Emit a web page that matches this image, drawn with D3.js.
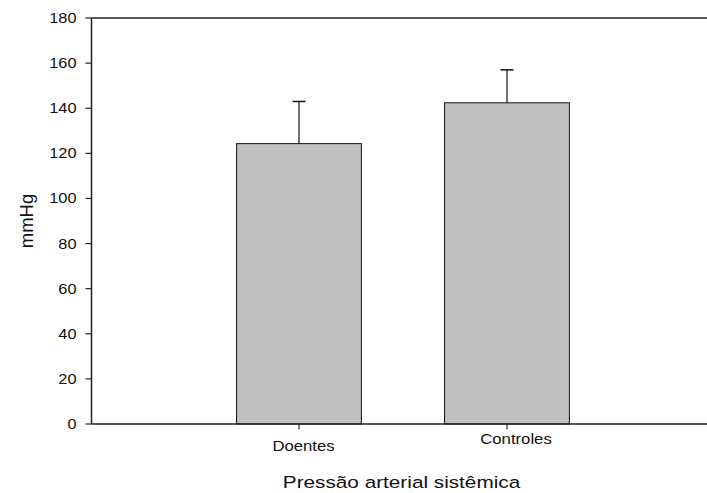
<!DOCTYPE html>
<html>
<head>
<meta charset="utf-8">
<script src="https://cdn.jsdelivr.net/npm/d3@7/dist/d3.min.js"></script>
<style>
  html, body { margin: 0; padding: 0; background: #fff; }
  svg { display: block; }
  text { font-family: Arial, "Liberation Sans", sans-serif; fill: #111; }
</style>
</head>
<body>
<svg id="chart" width="707" height="493"></svg>
<script>
// Systemic arterial pressure: patients vs controls (mean + SD)
const categories = ["Doentes", "Controles"];
const means = [124.3, 142.4];
const sdUpper = [143, 157];
const yTicks = [0, 20, 40, 60, 80, 100, 120, 140, 160, 180];
const yLabel = "mmHg";
const xTitle = "Pressão arterial sistêmica";

const svg = d3.select("#chart");
const W = 707, H = 493;
const plotLeft = 91.5, plotTop = 18, plotBottom = 424;
const stretch = 1.17; // horizontal widening of the lettering

const y = d3.scaleLinear().domain([0, 180]).range([plotBottom, plotTop]);
const x = d3.scaleBand().domain(categories).range([195, 611]).paddingInner(0.4).paddingOuter(0.2);

// bars
const g = svg.append("g");
g.selectAll("rect.bar").data(categories).join("rect")
  .attr("class", "bar")
  .attr("x", d => x(d))
  .attr("width", x.bandwidth())
  .attr("y", (d, i) => y(means[i]))
  .attr("height", (d, i) => y(0) - y(means[i]))
  .attr("fill", "#c0c0c0")
  .attr("stroke", "#111")
  .attr("stroke-width", 1);

// error bars (upper only)
const cx = d => x(d) + x.bandwidth() / 2;
g.selectAll("line.err").data(categories).join("line")
  .attr("class", "err")
  .attr("x1", cx).attr("x2", cx)
  .attr("y1", (d, i) => y(means[i]))
  .attr("y2", (d, i) => y(sdUpper[i]))
  .attr("stroke", "#111").attr("stroke-width", 1.2);
g.selectAll("line.cap").data(categories).join("line")
  .attr("class", "cap")
  .attr("x1", d => cx(d) - 6.5).attr("x2", d => cx(d) + 6.5)
  .attr("y1", (d, i) => y(sdUpper[i]))
  .attr("y2", (d, i) => y(sdUpper[i]))
  .attr("stroke", "#111").attr("stroke-width", 1.5);

// frame: left axis, top line, bottom axis
const axisColor = "#222";
svg.append("line").attr("x1", plotLeft).attr("x2", plotLeft).attr("y1", plotTop).attr("y2", plotBottom)
  .attr("stroke", axisColor).attr("stroke-width", 1.5);
svg.append("line").attr("x1", plotLeft).attr("x2", W).attr("y1", plotTop).attr("y2", plotTop)
  .attr("stroke", axisColor).attr("stroke-width", 1.5);
svg.append("line").attr("x1", plotLeft).attr("x2", W).attr("y1", plotBottom).attr("y2", plotBottom)
  .attr("stroke", axisColor).attr("stroke-width", 1.5);

// y ticks
const yt = svg.append("g");
yt.selectAll("line").data(yTicks).join("line")
  .attr("x1", plotLeft - 6).attr("x2", plotLeft)
  .attr("y1", d => y(d)).attr("y2", d => y(d))
  .attr("stroke", axisColor).attr("stroke-width", 1.2);
yt.selectAll("text").data(yTicks).join("text")
  .attr("transform", d => `translate(76.5,${y(d) + 5}) scale(${stretch},1)`)
  .attr("text-anchor", "end")
  .attr("font-size", 14)
  .text(d => d);

// x ticks
const xt = svg.append("g");
xt.selectAll("line").data(categories).join("line")
  .attr("x1", cx).attr("x2", cx)
  .attr("y1", plotBottom).attr("y2", plotBottom + 5)
  .attr("stroke", axisColor).attr("stroke-width", 1.2);
const labelY = [450.5, 444];
const labelDx = [4.5, 9];
xt.selectAll("text").data(categories).join("text")
  .attr("transform", (d, i) => `translate(${cx(d) + labelDx[i]},${labelY[i]}) scale(${stretch * 1.02},1)`)
  .attr("text-anchor", "middle")
  .attr("font-size", 14)
  .text(d => d);

// axis titles
svg.append("text")
  .attr("transform", `translate(401.5,488) scale(1.22,1)`)
  .attr("text-anchor", "middle")
  .attr("font-size", 17)
  .text(xTitle);
svg.append("text")
  .attr("transform", `translate(33,221) rotate(-90)`)
  .attr("text-anchor", "middle")
  .attr("font-size", 18.5)
  .text(yLabel);
</script>
</body>
</html>
